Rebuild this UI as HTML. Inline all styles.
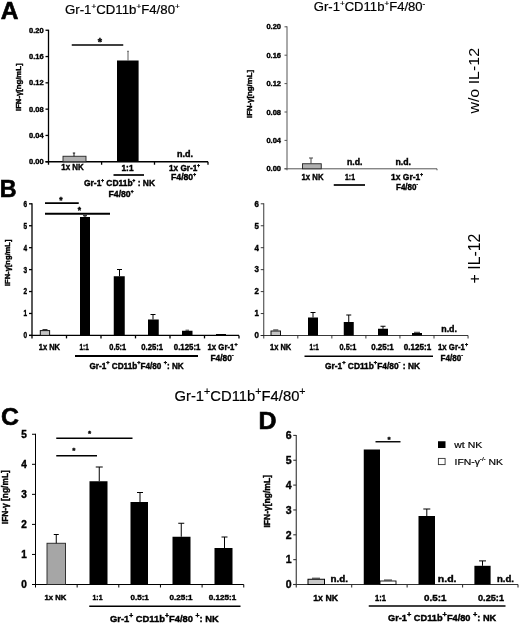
<!DOCTYPE html>
<html lang="en">
<head>
<meta charset="utf-8">
<title>Figure</title>
<style>
html,body{margin:0;padding:0;background:#fff;}
body{width:520px;height:625px;overflow:hidden;}
svg{display:block;font-family:"Liberation Sans",sans-serif;filter:blur(0.3px);}
</style>
</head>
<body>
<svg width="520" height="625" viewBox="0 0 520 625" shape-rendering="auto">
<rect x="0" y="0" width="520" height="625" fill="#fff"/>
<text x="0.8" y="18.6" font-size="24.6" textLength="17.7" lengthAdjust="spacingAndGlyphs" font-weight="bold" stroke="#000" stroke-width="0.6">A</text>
<text x="65" y="14" font-size="12.5" textLength="114.8" lengthAdjust="spacingAndGlyphs" stroke="#000" stroke-width="0.2">Gr-1<tspan dy="-5.25" font-size="7.75">+</tspan><tspan dy="5.25">CD11b</tspan><tspan dy="-5.25" font-size="7.75">+</tspan><tspan dy="5.25">F4/80</tspan><tspan dy="-5.25" font-size="7.75">+</tspan></text>
<line x1="48.5" y1="29.75" x2="48.5" y2="164.75" stroke="#000" stroke-width="1.3"/>
<line x1="45.5" y1="161.75" x2="208" y2="161.75" stroke="#000" stroke-width="1.3"/>
<line x1="45.5" y1="161.75" x2="48.5" y2="161.75" stroke="#000" stroke-width="1.3"/>
<line x1="45.5" y1="135.45" x2="48.5" y2="135.45" stroke="#000" stroke-width="1.3"/>
<line x1="45.5" y1="109.15" x2="48.5" y2="109.15" stroke="#000" stroke-width="1.3"/>
<line x1="45.5" y1="82.85" x2="48.5" y2="82.85" stroke="#000" stroke-width="1.3"/>
<line x1="45.5" y1="56.55" x2="48.5" y2="56.55" stroke="#000" stroke-width="1.3"/>
<line x1="45.5" y1="30.25" x2="48.5" y2="30.25" stroke="#000" stroke-width="1.3"/>
<line x1="101.6" y1="161.75" x2="101.6" y2="164.75" stroke="#000" stroke-width="1.3"/>
<line x1="154.5" y1="161.75" x2="154.5" y2="164.75" stroke="#000" stroke-width="1.3"/>
<line x1="208" y1="161.75" x2="208" y2="164.75" stroke="#000" stroke-width="1.3"/>
<text x="43.6" y="164.35" font-size="7.5" text-anchor="end" font-weight="bold" stroke="#000" stroke-width="0.4">0.00</text>
<text x="43.6" y="138.05" font-size="7.5" text-anchor="end" font-weight="bold" stroke="#000" stroke-width="0.4">0.04</text>
<text x="43.6" y="111.75" font-size="7.5" text-anchor="end" font-weight="bold" stroke="#000" stroke-width="0.4">0.08</text>
<text x="43.6" y="85.45" font-size="7.5" text-anchor="end" font-weight="bold" stroke="#000" stroke-width="0.4">0.12</text>
<text x="43.6" y="59.15" font-size="7.5" text-anchor="end" font-weight="bold" stroke="#000" stroke-width="0.4">0.16</text>
<text x="43.6" y="32.85" font-size="7.5" text-anchor="end" font-weight="bold" stroke="#000" stroke-width="0.4">0.20</text>
<text x="0" y="0" font-size="7.7" textLength="47.5" lengthAdjust="spacingAndGlyphs" font-weight="bold" stroke="#000" stroke-width="0.4" transform="translate(20.6,111) rotate(-90)">IFN-γ[ng/mL]</text>
<rect x="63" y="156.25" width="23" height="5.5" fill="#b0b0b0" stroke="#222" stroke-width="0.9"/>
<line x1="74" y1="153" x2="74" y2="156.25" stroke="#000" stroke-width="0.9"/>
<line x1="72.8" y1="153" x2="75.2" y2="153" stroke="#000" stroke-width="0.9"/>
<rect x="117" y="60.5" width="21.6" height="101.25" fill="#000"/>
<line x1="128" y1="51.25" x2="128" y2="60.5" stroke="#333" stroke-width="0.8"/>
<line x1="127.2" y1="51.25" x2="128.8" y2="51.25" stroke="#333" stroke-width="0.8"/>
<line x1="71.75" y1="45" x2="123.25" y2="45" stroke="#000" stroke-width="1.7"/>
<text x="100" y="46.29" font-size="11" text-anchor="middle" font-weight="bold" stroke="#000" stroke-width="0.4">*</text>
<text x="177" y="157" font-size="8.8" textLength="16" lengthAdjust="spacingAndGlyphs" font-weight="bold" stroke="#000" stroke-width="0.4">n.d.</text>
<text x="61.25" y="170" font-size="8.8" textLength="22.5" lengthAdjust="spacingAndGlyphs" font-weight="bold" stroke="#000" stroke-width="0.4">1x NK</text>
<text x="121.5" y="171" font-size="8.8" textLength="12" lengthAdjust="spacingAndGlyphs" font-weight="bold" stroke="#000" stroke-width="0.4">1:1</text>
<line x1="113.5" y1="175" x2="144" y2="175" stroke="#000" stroke-width="1.7"/>
<text x="84" y="186" font-size="8.8" textLength="71" lengthAdjust="spacingAndGlyphs" font-weight="bold" stroke="#000" stroke-width="0.4">Gr-1<tspan dy="-3.96" font-size="4.84">+</tspan><tspan dy="3.96"> CD11b</tspan><tspan dy="-3.96" font-size="4.84">+</tspan><tspan dy="3.96"> : NK</tspan></text>
<text x="108.5" y="196.5" font-size="8.8" textLength="25" lengthAdjust="spacingAndGlyphs" font-weight="bold" stroke="#000" stroke-width="0.4">F4/80<tspan dy="-3.96" font-size="4.84">+</tspan></text>
<text x="169" y="171" font-size="8.8" textLength="31" lengthAdjust="spacingAndGlyphs" font-weight="bold" stroke="#000" stroke-width="0.4">1x Gr-1<tspan dy="-3.96" font-size="4.84">+</tspan></text>
<text x="171" y="180" font-size="8.8" textLength="25" lengthAdjust="spacingAndGlyphs" font-weight="bold" stroke="#000" stroke-width="0.4">F4/80<tspan dy="-3.96" font-size="4.84">+</tspan></text>
<text x="313.8" y="11" font-size="12.5" textLength="111.5" lengthAdjust="spacingAndGlyphs" stroke="#000" stroke-width="0.2">Gr-1<tspan dy="-5.25" font-size="7.75">+</tspan><tspan dy="5.25">CD11b</tspan><tspan dy="-5.25" font-size="7.75">+</tspan><tspan dy="5.25">F4/80</tspan><tspan dy="-5.25" font-size="7.75">-</tspan></text>
<line x1="287" y1="26.3" x2="287" y2="170.3" stroke="#555" stroke-width="1"/>
<line x1="284.5" y1="168.8" x2="437" y2="168.8" stroke="#555" stroke-width="1"/>
<line x1="284.5" y1="168.8" x2="287" y2="168.8" stroke="#555" stroke-width="1"/>
<line x1="284.5" y1="140.4" x2="287" y2="140.4" stroke="#555" stroke-width="1"/>
<line x1="284.5" y1="112" x2="287" y2="112" stroke="#555" stroke-width="1"/>
<line x1="284.5" y1="83.6" x2="287" y2="83.6" stroke="#555" stroke-width="1"/>
<line x1="284.5" y1="55.2" x2="287" y2="55.2" stroke="#555" stroke-width="1"/>
<line x1="284.5" y1="26.8" x2="287" y2="26.8" stroke="#555" stroke-width="1"/>
<line x1="437" y1="168.8" x2="437" y2="170.3" stroke="#555" stroke-width="1"/>
<text x="281" y="171.4" font-size="7.5" text-anchor="end" font-weight="bold" stroke="#000" stroke-width="0.4">0.00</text>
<text x="281" y="143" font-size="7.5" text-anchor="end" font-weight="bold" stroke="#000" stroke-width="0.4">0.04</text>
<text x="281" y="114.6" font-size="7.5" text-anchor="end" font-weight="bold" stroke="#000" stroke-width="0.4">0.08</text>
<text x="281" y="86.2" font-size="7.5" text-anchor="end" font-weight="bold" stroke="#000" stroke-width="0.4">0.12</text>
<text x="281" y="57.8" font-size="7.5" text-anchor="end" font-weight="bold" stroke="#000" stroke-width="0.4">0.16</text>
<text x="281" y="29.4" font-size="7.5" text-anchor="end" font-weight="bold" stroke="#000" stroke-width="0.4">0.20</text>
<text x="0" y="0" font-size="7.5" textLength="48" lengthAdjust="spacingAndGlyphs" font-weight="bold" stroke="#000" stroke-width="0.4" transform="translate(252.3,118) rotate(-90)">IFN-γ[ng/mL]</text>
<rect x="302.5" y="163.75" width="18.75" height="5.05" fill="#b0b0b0" stroke="#222" stroke-width="0.9"/>
<line x1="311" y1="158" x2="311" y2="163.75" stroke="#444" stroke-width="1"/>
<line x1="309" y1="158" x2="313" y2="158" stroke="#444" stroke-width="1"/>
<text x="347" y="165" font-size="8.8" textLength="15.5" lengthAdjust="spacingAndGlyphs" font-weight="bold" stroke="#000" stroke-width="0.4">n.d.</text>
<text x="395.5" y="165" font-size="8.8" textLength="15.5" lengthAdjust="spacingAndGlyphs" font-weight="bold" stroke="#000" stroke-width="0.4">n.d.</text>
<text x="301.5" y="180" font-size="8.8" textLength="22" lengthAdjust="spacingAndGlyphs" font-weight="bold" stroke="#000" stroke-width="0.4">1x NK</text>
<text x="345" y="180" font-size="8.8" textLength="10" lengthAdjust="spacingAndGlyphs" font-weight="bold" stroke="#000" stroke-width="0.4">1:1</text>
<line x1="333.75" y1="185" x2="365" y2="185" stroke="#000" stroke-width="1.7"/>
<text x="391" y="180" font-size="8.8" textLength="32" lengthAdjust="spacingAndGlyphs" font-weight="bold" stroke="#000" stroke-width="0.4">1x Gr-1<tspan dy="-3.96" font-size="4.84">+</tspan></text>
<text x="396" y="189.5" font-size="8.8" textLength="22" lengthAdjust="spacingAndGlyphs" font-weight="bold" stroke="#000" stroke-width="0.4">F4/80<tspan dy="-3.96" font-size="4.84">-</tspan></text>
<text x="0" y="0" font-size="15.3" textLength="65.6" lengthAdjust="spacingAndGlyphs" transform="translate(479.4,113.6) rotate(-90)">w/o IL-12</text>
<text x="-0.3" y="197.2" font-size="23.3" textLength="16.8" lengthAdjust="spacingAndGlyphs" font-weight="bold" stroke="#000" stroke-width="0.6">B</text>
<line x1="32" y1="203.32" x2="32" y2="338.4" stroke="#000" stroke-width="1.3"/>
<line x1="29" y1="335.4" x2="239" y2="335.4" stroke="#000" stroke-width="1.3"/>
<line x1="29" y1="335.4" x2="32" y2="335.4" stroke="#000" stroke-width="1.3"/>
<line x1="29" y1="313.47" x2="32" y2="313.47" stroke="#000" stroke-width="1.3"/>
<line x1="29" y1="291.54" x2="32" y2="291.54" stroke="#000" stroke-width="1.3"/>
<line x1="29" y1="269.61" x2="32" y2="269.61" stroke="#000" stroke-width="1.3"/>
<line x1="29" y1="247.68" x2="32" y2="247.68" stroke="#000" stroke-width="1.3"/>
<line x1="29" y1="225.75" x2="32" y2="225.75" stroke="#000" stroke-width="1.3"/>
<line x1="29" y1="203.82" x2="32" y2="203.82" stroke="#000" stroke-width="1.3"/>
<line x1="66.5" y1="335.4" x2="66.5" y2="338.4" stroke="#000" stroke-width="1.3"/>
<line x1="101" y1="335.4" x2="101" y2="338.4" stroke="#000" stroke-width="1.3"/>
<line x1="135.5" y1="335.4" x2="135.5" y2="338.4" stroke="#000" stroke-width="1.3"/>
<line x1="170" y1="335.4" x2="170" y2="338.4" stroke="#000" stroke-width="1.3"/>
<line x1="204.5" y1="335.4" x2="204.5" y2="338.4" stroke="#000" stroke-width="1.3"/>
<line x1="239" y1="335.4" x2="239" y2="338.4" stroke="#000" stroke-width="1.3"/>
<text x="23.6" y="338.3" font-size="8.3" textLength="3.6" lengthAdjust="spacingAndGlyphs" font-weight="bold" stroke="#000" stroke-width="0.4">0</text>
<text x="23.6" y="316.37" font-size="8.3" textLength="3.6" lengthAdjust="spacingAndGlyphs" font-weight="bold" stroke="#000" stroke-width="0.4">1</text>
<text x="23.6" y="294.44" font-size="8.3" textLength="3.6" lengthAdjust="spacingAndGlyphs" font-weight="bold" stroke="#000" stroke-width="0.4">2</text>
<text x="23.6" y="272.51" font-size="8.3" textLength="3.6" lengthAdjust="spacingAndGlyphs" font-weight="bold" stroke="#000" stroke-width="0.4">3</text>
<text x="23.6" y="250.58" font-size="8.3" textLength="3.6" lengthAdjust="spacingAndGlyphs" font-weight="bold" stroke="#000" stroke-width="0.4">4</text>
<text x="23.6" y="228.65" font-size="8.3" textLength="3.6" lengthAdjust="spacingAndGlyphs" font-weight="bold" stroke="#000" stroke-width="0.4">5</text>
<text x="23.6" y="206.72" font-size="8.3" textLength="3.6" lengthAdjust="spacingAndGlyphs" font-weight="bold" stroke="#000" stroke-width="0.4">6</text>
<text x="0" y="0" font-size="7.5" textLength="46.4" lengthAdjust="spacingAndGlyphs" font-weight="bold" stroke="#000" stroke-width="0.4" transform="translate(10.2,286) rotate(-90)">IFN-γ[ng/mL]</text>
<rect x="40.3" y="330.6" width="9.3" height="4.8" fill="#c4c4c4" stroke="#111" stroke-width="1"/>
<line x1="42.5" y1="329.5" x2="47.5" y2="329.5" stroke="#000" stroke-width="0.8"/>
<rect x="80" y="217" width="10" height="118.4" fill="#000"/>
<line x1="85" y1="215.75" x2="85" y2="217" stroke="#000" stroke-width="1"/>
<line x1="83" y1="215.75" x2="87" y2="215.75" stroke="#000" stroke-width="1"/>
<rect x="113.75" y="276.25" width="11" height="59.15" fill="#000"/>
<line x1="119.5" y1="269.5" x2="119.5" y2="276.25" stroke="#000" stroke-width="1"/>
<line x1="117" y1="269.5" x2="122" y2="269.5" stroke="#000" stroke-width="1"/>
<rect x="148" y="319.5" width="10.75" height="15.9" fill="#000"/>
<line x1="153" y1="314.5" x2="153" y2="319.5" stroke="#000" stroke-width="1"/>
<line x1="150.5" y1="314.5" x2="155.5" y2="314.5" stroke="#000" stroke-width="1"/>
<rect x="182" y="330.75" width="10.5" height="4.65" fill="#000"/>
<line x1="185.5" y1="330.2" x2="189" y2="330.2" stroke="#000" stroke-width="0.8"/>
<rect x="216" y="334" width="10" height="1.4" fill="#000"/>
<line x1="45" y1="203.2" x2="78.75" y2="203.2" stroke="#000" stroke-width="1.8"/>
<text x="61" y="202.93" font-size="8.5" text-anchor="middle" font-weight="bold" stroke="#000" stroke-width="0.4">*</text>
<line x1="45" y1="213.75" x2="110" y2="213.75" stroke="#000" stroke-width="1.8"/>
<text x="79.3" y="212.63" font-size="8.5" text-anchor="middle" font-weight="bold" stroke="#000" stroke-width="0.4">*</text>
<text x="38.75" y="350" font-size="8.8" textLength="21.25" lengthAdjust="spacingAndGlyphs" font-weight="bold" stroke="#000" stroke-width="0.4">1x NK</text>
<text x="79.5" y="350" font-size="8.8" textLength="9.25" lengthAdjust="spacingAndGlyphs" font-weight="bold" stroke="#000" stroke-width="0.4">1:1</text>
<text x="109.25" y="350" font-size="8.8" textLength="17" lengthAdjust="spacingAndGlyphs" font-weight="bold" stroke="#000" stroke-width="0.4">0.5:1</text>
<text x="141.25" y="350" font-size="8.8" textLength="21.75" lengthAdjust="spacingAndGlyphs" font-weight="bold" stroke="#000" stroke-width="0.4">0.25:1</text>
<text x="173.75" y="350" font-size="8.8" textLength="26.75" lengthAdjust="spacingAndGlyphs" font-weight="bold" stroke="#000" stroke-width="0.4">0.125:1</text>
<text x="207.5" y="350" font-size="8.8" textLength="30" lengthAdjust="spacingAndGlyphs" font-weight="bold" stroke="#000" stroke-width="0.4">1x Gr-1<tspan dy="-4.4" font-size="5.98">+</tspan></text>
<text x="210.5" y="361" font-size="8.8" textLength="23.25" lengthAdjust="spacingAndGlyphs" font-weight="bold" stroke="#000" stroke-width="0.4">F4/80<tspan dy="-4.4" font-size="5.98">-</tspan></text>
<line x1="75" y1="356" x2="198" y2="356" stroke="#000" stroke-width="1.8"/>
<text x="89.5" y="368.75" font-size="8.8" textLength="94.25" lengthAdjust="spacingAndGlyphs" font-weight="bold" stroke="#000" stroke-width="0.4">Gr-1<tspan dy="-4.4" font-size="5.98">+</tspan><tspan dy="4.4"> CD11b</tspan><tspan dy="-4.4" font-size="5.98">+</tspan><tspan dy="4.4">F4/80 </tspan><tspan dy="-4.4" font-size="5.98">+</tspan><tspan dy="4.4">: NK</tspan></text>
<line x1="263.75" y1="203.3" x2="263.75" y2="338.5" stroke="#222" stroke-width="0.9"/>
<line x1="260.75" y1="335.5" x2="468.05" y2="335.5" stroke="#222" stroke-width="0.9"/>
<line x1="260.75" y1="335.5" x2="263.75" y2="335.5" stroke="#222" stroke-width="0.9"/>
<line x1="260.75" y1="313.55" x2="263.75" y2="313.55" stroke="#222" stroke-width="0.9"/>
<line x1="260.75" y1="291.6" x2="263.75" y2="291.6" stroke="#222" stroke-width="0.9"/>
<line x1="260.75" y1="269.65" x2="263.75" y2="269.65" stroke="#222" stroke-width="0.9"/>
<line x1="260.75" y1="247.7" x2="263.75" y2="247.7" stroke="#222" stroke-width="0.9"/>
<line x1="260.75" y1="225.75" x2="263.75" y2="225.75" stroke="#222" stroke-width="0.9"/>
<line x1="260.75" y1="203.8" x2="263.75" y2="203.8" stroke="#222" stroke-width="0.9"/>
<line x1="297.8" y1="335.5" x2="297.8" y2="338.5" stroke="#222" stroke-width="0.9"/>
<line x1="331.85" y1="335.5" x2="331.85" y2="338.5" stroke="#222" stroke-width="0.9"/>
<line x1="365.9" y1="335.5" x2="365.9" y2="338.5" stroke="#222" stroke-width="0.9"/>
<line x1="399.95" y1="335.5" x2="399.95" y2="338.5" stroke="#222" stroke-width="0.9"/>
<line x1="434" y1="335.5" x2="434" y2="338.5" stroke="#222" stroke-width="0.9"/>
<line x1="468.05" y1="335.5" x2="468.05" y2="338.5" stroke="#222" stroke-width="0.9"/>
<text x="254.5" y="338.3" font-size="8.3" textLength="4.4" lengthAdjust="spacingAndGlyphs" font-weight="bold" stroke="#000" stroke-width="0.4">0</text>
<text x="254.5" y="316.35" font-size="8.3" textLength="4.4" lengthAdjust="spacingAndGlyphs" font-weight="bold" stroke="#000" stroke-width="0.4">1</text>
<text x="254.5" y="294.4" font-size="8.3" textLength="4.4" lengthAdjust="spacingAndGlyphs" font-weight="bold" stroke="#000" stroke-width="0.4">2</text>
<text x="254.5" y="272.45" font-size="8.3" textLength="4.4" lengthAdjust="spacingAndGlyphs" font-weight="bold" stroke="#000" stroke-width="0.4">3</text>
<text x="254.5" y="250.5" font-size="8.3" textLength="4.4" lengthAdjust="spacingAndGlyphs" font-weight="bold" stroke="#000" stroke-width="0.4">4</text>
<text x="254.5" y="228.55" font-size="8.3" textLength="4.4" lengthAdjust="spacingAndGlyphs" font-weight="bold" stroke="#000" stroke-width="0.4">5</text>
<text x="254.5" y="206.6" font-size="8.3" textLength="4.4" lengthAdjust="spacingAndGlyphs" font-weight="bold" stroke="#000" stroke-width="0.4">6</text>
<rect x="271" y="331" width="9.5" height="4.5" fill="#c4c4c4" stroke="#111" stroke-width="1"/>
<line x1="273.2" y1="329.9" x2="278.3" y2="329.9" stroke="#000" stroke-width="0.8"/>
<rect x="308" y="317.5" width="10" height="18" fill="#000"/>
<line x1="313" y1="312.5" x2="313" y2="317.5" stroke="#000" stroke-width="1"/>
<line x1="310.5" y1="312.5" x2="315.5" y2="312.5" stroke="#000" stroke-width="1"/>
<rect x="343.75" y="322" width="10" height="13.5" fill="#000"/>
<line x1="348.75" y1="315" x2="348.75" y2="322" stroke="#000" stroke-width="1"/>
<line x1="346.25" y1="315" x2="351.25" y2="315" stroke="#000" stroke-width="1"/>
<rect x="378" y="328.75" width="10" height="6.75" fill="#000"/>
<line x1="383" y1="326.25" x2="383" y2="328.75" stroke="#000" stroke-width="1"/>
<line x1="380.5" y1="326.25" x2="385.5" y2="326.25" stroke="#000" stroke-width="1"/>
<rect x="412" y="333" width="10" height="2.5" fill="#000"/>
<line x1="414" y1="332.3" x2="420" y2="332.3" stroke="#000" stroke-width="0.8"/>
<text x="441.25" y="332" font-size="8.8" textLength="15.75" lengthAdjust="spacingAndGlyphs" font-weight="bold" stroke="#000" stroke-width="0.4">n.d.</text>
<text x="270" y="350" font-size="8.8" textLength="21.25" lengthAdjust="spacingAndGlyphs" font-weight="bold" stroke="#000" stroke-width="0.4">1x NK</text>
<text x="309.5" y="350" font-size="8.8" textLength="9.25" lengthAdjust="spacingAndGlyphs" font-weight="bold" stroke="#000" stroke-width="0.4">1:1</text>
<text x="339.5" y="350" font-size="8.8" textLength="16.75" lengthAdjust="spacingAndGlyphs" font-weight="bold" stroke="#000" stroke-width="0.4">0.5:1</text>
<text x="371.25" y="350" font-size="8.8" textLength="22.5" lengthAdjust="spacingAndGlyphs" font-weight="bold" stroke="#000" stroke-width="0.4">0.25:1</text>
<text x="403.75" y="350" font-size="8.8" textLength="27.5" lengthAdjust="spacingAndGlyphs" font-weight="bold" stroke="#000" stroke-width="0.4">0.125:1</text>
<text x="438" y="350" font-size="8.8" textLength="30" lengthAdjust="spacingAndGlyphs" font-weight="bold" stroke="#000" stroke-width="0.4">1x Gr-1<tspan dy="-4.4" font-size="5.98">+</tspan></text>
<text x="440.5" y="361" font-size="8.8" textLength="22.5" lengthAdjust="spacingAndGlyphs" font-weight="bold" stroke="#000" stroke-width="0.4">F4/80<tspan dy="-4.4" font-size="5.98">-</tspan></text>
<line x1="304.5" y1="356.25" x2="433" y2="356.25" stroke="#000" stroke-width="1.5"/>
<text x="325" y="368.75" font-size="8.8" textLength="95" lengthAdjust="spacingAndGlyphs" font-weight="bold" stroke="#000" stroke-width="0.4">Gr-1<tspan dy="-4.4" font-size="5.98">+</tspan><tspan dy="4.4"> CD11b</tspan><tspan dy="-4.4" font-size="5.98">+</tspan><tspan dy="4.4">F4/80</tspan><tspan dy="-4.4" font-size="5.98">-</tspan><tspan dy="4.4"> : NK</tspan></text>
<text x="0" y="0" font-size="15.7" textLength="49.8" lengthAdjust="spacingAndGlyphs" transform="translate(479.5,283.4) rotate(-90)">+ IL-12</text>
<text x="1.1" y="424.5" font-size="24.8" textLength="17.9" lengthAdjust="spacingAndGlyphs" font-weight="bold" stroke="#000" stroke-width="0.6">C</text>
<text x="174.5" y="401.25" font-size="15" textLength="131.1" lengthAdjust="spacingAndGlyphs" stroke="#000" stroke-width="0.2">Gr-1<tspan dy="-6.3" font-size="10.8">+</tspan><tspan dy="6.3">CD11b</tspan><tspan dy="-6.3" font-size="10.8">+</tspan><tspan dy="6.3">F4/80</tspan><tspan dy="-6.3" font-size="10.8">+</tspan></text>
<line x1="35.5" y1="433.75" x2="35.5" y2="587.5" stroke="#000" stroke-width="1"/>
<line x1="32" y1="584.5" x2="243.75" y2="584.5" stroke="#000" stroke-width="1"/>
<line x1="32" y1="584.5" x2="35.5" y2="584.5" stroke="#000" stroke-width="1"/>
<line x1="32" y1="554.45" x2="35.5" y2="554.45" stroke="#000" stroke-width="1"/>
<line x1="32" y1="524.4" x2="35.5" y2="524.4" stroke="#000" stroke-width="1"/>
<line x1="32" y1="494.35" x2="35.5" y2="494.35" stroke="#000" stroke-width="1"/>
<line x1="32" y1="464.3" x2="35.5" y2="464.3" stroke="#000" stroke-width="1"/>
<line x1="32" y1="434.25" x2="35.5" y2="434.25" stroke="#000" stroke-width="1"/>
<line x1="77.15" y1="584.5" x2="77.15" y2="587.5" stroke="#000" stroke-width="1"/>
<line x1="118.8" y1="584.5" x2="118.8" y2="587.5" stroke="#000" stroke-width="1"/>
<line x1="160.45" y1="584.5" x2="160.45" y2="587.5" stroke="#000" stroke-width="1"/>
<line x1="202.1" y1="584.5" x2="202.1" y2="587.5" stroke="#000" stroke-width="1"/>
<line x1="243.75" y1="584.5" x2="243.75" y2="587.5" stroke="#000" stroke-width="1"/>
<text x="26.7" y="588.1" font-size="10" text-anchor="end" font-weight="bold" stroke="#000" stroke-width="0.4">0</text>
<text x="26.7" y="558.05" font-size="10" text-anchor="end" font-weight="bold" stroke="#000" stroke-width="0.4">1</text>
<text x="26.7" y="528" font-size="10" text-anchor="end" font-weight="bold" stroke="#000" stroke-width="0.4">2</text>
<text x="26.7" y="497.95" font-size="10" text-anchor="end" font-weight="bold" stroke="#000" stroke-width="0.4">3</text>
<text x="26.7" y="467.9" font-size="10" text-anchor="end" font-weight="bold" stroke="#000" stroke-width="0.4">4</text>
<text x="26.7" y="437.85" font-size="10" text-anchor="end" font-weight="bold" stroke="#000" stroke-width="0.4">5</text>
<text x="0" y="0" font-size="9" textLength="54" lengthAdjust="spacingAndGlyphs" font-weight="bold" stroke="#000" stroke-width="0.4" transform="translate(8.4,524.2) rotate(-90)">IFN-γ [ng/mL]</text>
<rect x="47" y="543.25" width="18.5" height="41.25" fill="#a6a6a6" stroke="#222" stroke-width="0.9"/>
<line x1="56.25" y1="534.5" x2="56.25" y2="543.25" stroke="#000" stroke-width="1"/>
<line x1="53.75" y1="534.5" x2="58.75" y2="534.5" stroke="#000" stroke-width="1"/>
<rect x="89.5" y="481.25" width="18" height="103.25" fill="#000"/>
<line x1="99.25" y1="467" x2="99.25" y2="481.25" stroke="#000" stroke-width="1"/>
<line x1="95.75" y1="467" x2="102.75" y2="467" stroke="#000" stroke-width="1"/>
<rect x="130.5" y="502" width="17.5" height="82.5" fill="#000"/>
<line x1="140" y1="492.5" x2="140" y2="502" stroke="#000" stroke-width="1"/>
<line x1="137" y1="492.5" x2="143" y2="492.5" stroke="#000" stroke-width="1"/>
<rect x="172.5" y="536.75" width="18" height="47.75" fill="#000"/>
<line x1="181.25" y1="523.25" x2="181.25" y2="536.75" stroke="#000" stroke-width="1"/>
<line x1="178.25" y1="523.25" x2="184.25" y2="523.25" stroke="#000" stroke-width="1"/>
<rect x="214.5" y="548" width="18" height="36.5" fill="#000"/>
<line x1="224.5" y1="537" x2="224.5" y2="548" stroke="#000" stroke-width="1"/>
<line x1="221.5" y1="537" x2="227.5" y2="537" stroke="#000" stroke-width="1"/>
<line x1="56.25" y1="438.25" x2="132.5" y2="438.25" stroke="#000" stroke-width="1.4"/>
<text x="89.5" y="435.86" font-size="8" text-anchor="middle" font-weight="bold" stroke="#000" stroke-width="0.4">*</text>
<line x1="56.25" y1="455.75" x2="97" y2="455.75" stroke="#000" stroke-width="1.4"/>
<text x="73.75" y="452.86" font-size="8" text-anchor="middle" font-weight="bold" stroke="#000" stroke-width="0.4">*</text>
<text x="44.5" y="600" font-size="7.6" textLength="21.75" lengthAdjust="spacingAndGlyphs" font-weight="bold" stroke="#000" stroke-width="0.4">1x NK</text>
<text x="92.5" y="600" font-size="7.6" textLength="10" lengthAdjust="spacingAndGlyphs" font-weight="bold" stroke="#000" stroke-width="0.4">1:1</text>
<text x="130.5" y="600" font-size="7.6" textLength="18.25" lengthAdjust="spacingAndGlyphs" font-weight="bold" stroke="#000" stroke-width="0.4">0.5:1</text>
<text x="169.5" y="600" font-size="7.6" textLength="23" lengthAdjust="spacingAndGlyphs" font-weight="bold" stroke="#000" stroke-width="0.4">0.25:1</text>
<text x="208.75" y="600" font-size="7.6" textLength="27.5" lengthAdjust="spacingAndGlyphs" font-weight="bold" stroke="#000" stroke-width="0.4">0.125:1</text>
<line x1="89.25" y1="606.25" x2="240.5" y2="606.25" stroke="#000" stroke-width="1.4"/>
<text x="110" y="621.75" font-size="9.3" textLength="108.75" lengthAdjust="spacingAndGlyphs" font-weight="bold" stroke="#000" stroke-width="0.4">Gr-1<tspan dy="-3.91" font-size="6.7">+</tspan><tspan dy="3.91"> CD11b</tspan><tspan dy="-3.91" font-size="6.7">+</tspan><tspan dy="3.91">F4/80 </tspan><tspan dy="-3.91" font-size="6.7">+</tspan><tspan dy="3.91">: NK</tspan></text>
<text x="258.4" y="428.75" font-size="23" textLength="18" lengthAdjust="spacingAndGlyphs" font-weight="bold" stroke="#000" stroke-width="0.6">D</text>
<line x1="296.25" y1="434.9" x2="296.25" y2="587.5" stroke="#333" stroke-width="1.1"/>
<line x1="293.25" y1="584.5" x2="518.01" y2="584.5" stroke="#333" stroke-width="1.1"/>
<line x1="293.25" y1="584.5" x2="296.25" y2="584.5" stroke="#333" stroke-width="1.1"/>
<line x1="293.25" y1="559.65" x2="296.25" y2="559.65" stroke="#333" stroke-width="1.1"/>
<line x1="293.25" y1="534.8" x2="296.25" y2="534.8" stroke="#333" stroke-width="1.1"/>
<line x1="293.25" y1="509.95" x2="296.25" y2="509.95" stroke="#333" stroke-width="1.1"/>
<line x1="293.25" y1="485.1" x2="296.25" y2="485.1" stroke="#333" stroke-width="1.1"/>
<line x1="293.25" y1="460.25" x2="296.25" y2="460.25" stroke="#333" stroke-width="1.1"/>
<line x1="293.25" y1="435.4" x2="296.25" y2="435.4" stroke="#333" stroke-width="1.1"/>
<line x1="351.69" y1="584.5" x2="351.69" y2="587.5" stroke="#333" stroke-width="1.1"/>
<line x1="407.13" y1="584.5" x2="407.13" y2="587.5" stroke="#333" stroke-width="1.1"/>
<line x1="462.57" y1="584.5" x2="462.57" y2="587.5" stroke="#333" stroke-width="1.1"/>
<line x1="518.01" y1="584.5" x2="518.01" y2="587.5" stroke="#333" stroke-width="1.1"/>
<text x="291.5" y="588.2" font-size="10.5" text-anchor="end" font-weight="bold" stroke="#000" stroke-width="0.4">0</text>
<text x="291.5" y="563.35" font-size="10.5" text-anchor="end" font-weight="bold" stroke="#000" stroke-width="0.4">1</text>
<text x="291.5" y="538.5" font-size="10.5" text-anchor="end" font-weight="bold" stroke="#000" stroke-width="0.4">2</text>
<text x="291.5" y="513.65" font-size="10.5" text-anchor="end" font-weight="bold" stroke="#000" stroke-width="0.4">3</text>
<text x="291.5" y="488.8" font-size="10.5" text-anchor="end" font-weight="bold" stroke="#000" stroke-width="0.4">4</text>
<text x="291.5" y="463.95" font-size="10.5" text-anchor="end" font-weight="bold" stroke="#000" stroke-width="0.4">5</text>
<text x="291.5" y="439.1" font-size="10.5" text-anchor="end" font-weight="bold" stroke="#000" stroke-width="0.4">6</text>
<text x="0" y="0" font-size="8.4" textLength="52.6" lengthAdjust="spacingAndGlyphs" font-weight="bold" stroke="#000" stroke-width="0.4" transform="translate(269.5,527.6) rotate(-90)">IFN-γ[ng/mL]</text>
<rect x="308" y="579.25" width="16.5" height="5.25" fill="#c8c8c8" stroke="#000" stroke-width="1"/>
<line x1="312" y1="578.2" x2="320" y2="578.2" stroke="#000" stroke-width="0.8"/>
<text x="330.5" y="581.75" font-size="9" textLength="17.5" lengthAdjust="spacingAndGlyphs" font-weight="bold" stroke="#000" stroke-width="0.4">n.d.</text>
<rect x="363.75" y="449.5" width="16.25" height="135" fill="#000"/>
<rect x="380" y="581" width="16" height="3.5" fill="#fff" stroke="#000" stroke-width="0.9"/>
<line x1="384" y1="580" x2="392" y2="580" stroke="#000" stroke-width="0.8"/>
<rect x="418.5" y="516" width="16.5" height="68.5" fill="#000"/>
<line x1="426.8" y1="509" x2="426.8" y2="516" stroke="#000" stroke-width="1"/>
<line x1="423.3" y1="509" x2="430.3" y2="509" stroke="#000" stroke-width="1"/>
<text x="437.8" y="582" font-size="9" textLength="18.7" lengthAdjust="spacingAndGlyphs" font-weight="bold" stroke="#000" stroke-width="0.4">n.d.</text>
<rect x="474.4" y="565.8" width="16.2" height="18.7" fill="#000"/>
<line x1="482.5" y1="560.9" x2="482.5" y2="565.8" stroke="#000" stroke-width="1"/>
<line x1="479" y1="560.9" x2="486" y2="560.9" stroke="#000" stroke-width="1"/>
<text x="497" y="582" font-size="9" textLength="17" lengthAdjust="spacingAndGlyphs" font-weight="bold" stroke="#000" stroke-width="0.4">n.d.</text>
<line x1="375.5" y1="441.75" x2="400.5" y2="441.75" stroke="#000" stroke-width="1.4"/>
<text x="389" y="442.06" font-size="8" text-anchor="middle" font-weight="bold" stroke="#000" stroke-width="0.4">*</text>
<rect x="438" y="441.25" width="7.5" height="6.75" fill="#000"/>
<text x="454.3" y="447.9" font-size="9.8" textLength="28" lengthAdjust="spacingAndGlyphs" stroke="#000" stroke-width="0.2">wt NK</text>
<rect x="438.4" y="458.4" width="6.7" height="6.2" fill="#fff" stroke="#333" stroke-width="0.9"/>
<text x="454.5" y="465.4" font-size="9.8" textLength="48.5" lengthAdjust="spacingAndGlyphs" stroke="#000" stroke-width="0.2">IFN-γ<tspan dy="-4.12" font-size="5.88">-/-</tspan><tspan dy="4.12"> NK</tspan></text>
<text x="313.25" y="601" font-size="9.6" textLength="24.75" lengthAdjust="spacingAndGlyphs" font-weight="bold" stroke="#000" stroke-width="0.4">1x NK</text>
<text x="375" y="601" font-size="9.6" textLength="11" lengthAdjust="spacingAndGlyphs" font-weight="bold" stroke="#000" stroke-width="0.4">1:1</text>
<text x="424" y="601" font-size="9.6" textLength="22.4" lengthAdjust="spacingAndGlyphs" font-weight="bold" stroke="#000" stroke-width="0.4">0.5:1</text>
<text x="478" y="601" font-size="9.6" textLength="26" lengthAdjust="spacingAndGlyphs" font-weight="bold" stroke="#000" stroke-width="0.4">0.25:1</text>
<line x1="368.75" y1="606" x2="505.5" y2="606" stroke="#000" stroke-width="1.4"/>
<text x="388" y="621.4" font-size="9.3" textLength="108.3" lengthAdjust="spacingAndGlyphs" font-weight="bold" stroke="#000" stroke-width="0.4">Gr-1<tspan dy="-4.28" font-size="7.44">+</tspan><tspan dy="4.28"> CD11b</tspan><tspan dy="-4.28" font-size="7.44">+</tspan><tspan dy="4.28">F4/80 </tspan><tspan dy="-4.28" font-size="7.44">+</tspan><tspan dy="4.28">: NK</tspan></text>
</svg>
</body>
</html>
